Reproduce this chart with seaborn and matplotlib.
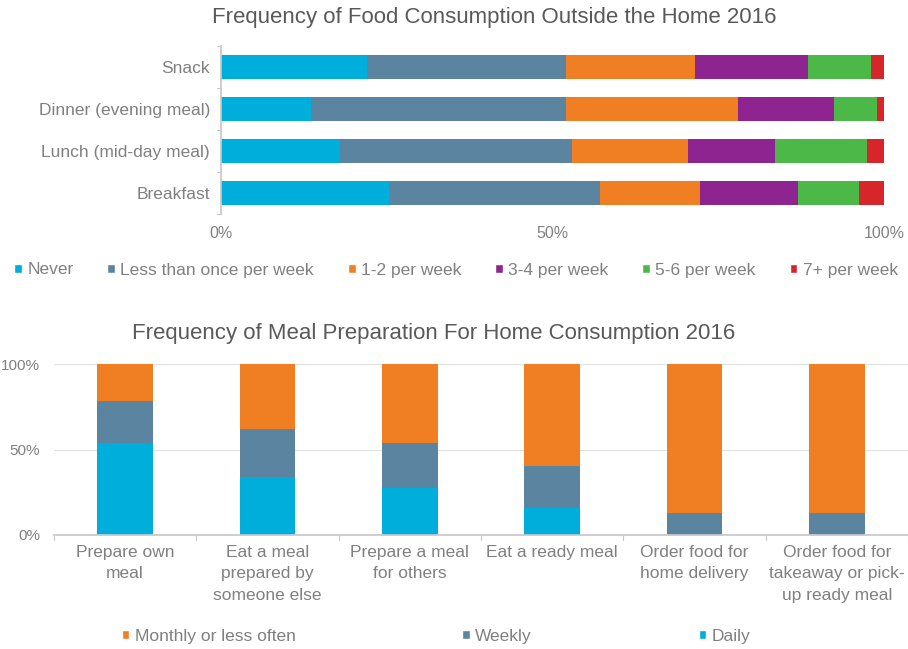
import matplotlib
matplotlib.use("Agg")
import matplotlib.pyplot as plt
import seaborn as sns
import numpy as np
import pandas as pd
from matplotlib.patches import Patch

sns.set_theme(style="white")
plt.rcParams['font.family'] = ['Liberation Sans', 'DejaVu Sans']

# ---- Data: top chart ----
meals = ["Snack", "Dinner (evening meal)", "Lunch (mid-day meal)", "Breakfast"]
top_series = ["Never", "Less than once per week", "1-2 per week", "3-4 per week", "5-6 per week", "7+ per week"]
never = [22.0, 13.5, 18.0, 25.3]
less_than_weekly = [30.0, 38.5, 35.0, 31.9]
one_two = [19.5, 26.0, 17.5, 15.0]
three_four = [17.0, 14.5, 13.0, 14.8]
five_six = [9.5, 6.5, 14.0, 9.2]
seven_plus = [2.0, 1.0, 2.5, 3.8]
top_colors = ["#00AEDB", "#5B84A0", "#F07F23", "#8E2490", "#4CB848", "#D7262B"]

# ---- Data: bottom chart ----
activities = ["Prepare own\nmeal", "Eat a meal\nprepared by\nsomeone else", "Prepare a meal\nfor others",
              "Eat a ready meal", "Order food for\nhome delivery", "Order food for\ntakeaway or pick-\nup ready meal"]
daily = [54.0, 34.1, 27.3, 15.6, 0.0, 0.0]
weekly = [24.4, 27.7, 26.7, 24.8, 12.7, 12.7]
monthly = [21.6, 38.2, 46.0, 59.6, 87.3, 87.3]
bottom_series = ["Monthly or less often", "Weekly", "Daily"]
bottom_colors = {"Monthly or less often": "#F07F23", "Weekly": "#5B84A0", "Daily": "#00AEDB"}

gray = "#808080"
W, H = 908, 649
fig = plt.figure(figsize=(W / 100, H / 100), dpi=100)

# ---------- Top chart ----------
ax1 = fig.add_axes([221 / W, 1 - 214 / H, (884 - 221) / W, 168 / H])
top_vals = np.array([never, less_than_weekly, one_two, three_four, five_six, seven_plus])
cum = np.cumsum(top_vals, axis=0)
for i in range(len(top_series) - 1, -1, -1):
    df = pd.DataFrame({"meal": meals, "val": cum[i]})
    sns.barplot(data=df, x="val", y="meal", orient="h", color=top_colors[i],
                width=0.55, saturation=1, ax=ax1, order=meals, edgecolor="none")
ax1.set_xlim(0, 100)
ax1.set_ylim(3.5, -0.5)
ax1.set_xticks([0, 50, 100])
ax1.set_xticklabels(["0%", "50%", "100%"])
ax1.set_xlabel("")
ax1.set_ylabel("")
for s in ["top", "right", "bottom"]:
    ax1.spines[s].set_visible(False)
ax1.spines["left"].set_color("#c8c8c8")
ax1.tick_params(axis="x", colors=gray, labelsize=11.5, length=0, pad=9)
ax1.tick_params(axis="y", colors=gray, labelsize=12.5, length=0, pad=8)
for y in [-0.5, 0.5, 1.5, 2.5, 3.5]:
    ax1.plot([-0.6, 0], [y, y], color="#c8c8c8", lw=0.8, clip_on=False)
fig.text(494 / W, 1 - 18 / H, "Frequency of Food Consumption Outside the Home 2016",
         ha="center", va="center", fontsize=16, color="#595959")
handles = [Patch(facecolor=c, label=l) for c, l in zip(top_colors, top_series)]
fig.legend(handles=handles, loc="center", bbox_to_anchor=(456 / W, 1 - 270 / H), ncol=6,
           frameon=False, fontsize=12.5, labelcolor=gray, handlelength=0.45, handleheight=0.45,
           handletextpad=0.3, columnspacing=1.95)

# ---------- Bottom chart ----------
ax2 = fig.add_axes([54 / W, 1 - 535 / H, (908 - 54) / W, 171 / H])
bottom_vals = {"Daily": np.array(daily), "Weekly": np.array(weekly), "Monthly or less often": np.array(monthly)}
stack_order = ["Daily", "Weekly", "Monthly or less often"]
cumb = np.cumsum([bottom_vals[k] for k in stack_order], axis=0)
for i in range(len(stack_order) - 1, -1, -1):
    df = pd.DataFrame({"act": activities, "val": cumb[i]})
    sns.barplot(data=df, x="act", y="val", color=bottom_colors[stack_order[i]],
                width=0.39, saturation=1, ax=ax2, order=activities, edgecolor="none")
ax2.set_ylim(0, 100)
ax2.set_xlim(-0.5, 5.5)
ax2.set_yticks([0, 50, 100])
ax2.set_yticklabels(["0%", "50%", "100%"])
ax2.set_xlabel("")
ax2.set_ylabel("")
ax2.grid(axis="y", color="#e0e0e0", lw=0.8)
ax2.set_axisbelow(True)
for s in ["top", "right", "left"]:
    ax2.spines[s].set_visible(False)
ax2.spines["bottom"].set_color("#c8c8c8")
ax2.tick_params(axis="y", colors=gray, labelsize=11, length=0, pad=10)
ax2.tick_params(axis="x", colors=gray, labelsize=12.5, length=0, pad=7)
for lab in ax2.get_xticklabels():
    lab.set_linespacing(1.55)
for x in [-0.5, 0.5, 1.5, 2.5, 3.5, 4.5, 5.5]:
    ax2.plot([x, x], [0, -3], color="#c8c8c8", lw=0.8, clip_on=False)
fig.text(434 / W, 1 - 333 / H, "Frequency of Meal Preparation For Home Consumption 2016",
         ha="center", va="center", fontsize=16, color="#595959")
handles2 = [Patch(facecolor=bottom_colors[l], label=l) for l in bottom_series]
fig.legend(handles=handles2, loc="center", bbox_to_anchor=(436 / W, 1 - 636 / H), ncol=3,
           frameon=False, fontsize=12.5, labelcolor=gray, handlelength=0.45, handleheight=0.45,
           handletextpad=0.3, columnspacing=9.6)

fig.savefig("out.png", dpi=100)
